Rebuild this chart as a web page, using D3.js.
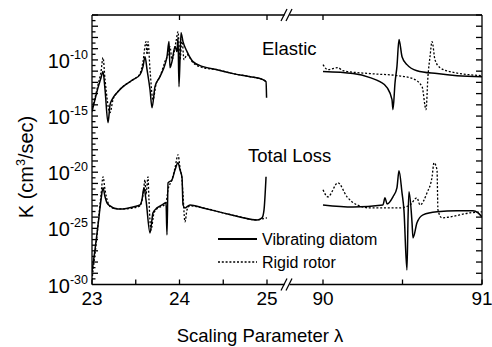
<!DOCTYPE html>
<html><head><meta charset="utf-8">
<script src="https://cdn.jsdelivr.net/npm/d3@7"></script>
<style>body{margin:0;background:#fff}svg{display:block;font-family:"Liberation Sans",Arial,sans-serif}</style>
</head><body><svg id="c" width="492" height="347"></svg>
<script>
// ---- data (lambda, log10 K) ----
const xTicksLeft = [23, 24, 25];
const xTicksRight = [90, 91];
const xMinorLeft = [23.5, 24.5];
const xMinorRight = [90.5];
const yTickExps = [-10, -15, -20, -25, -30];

const elVibLX = [23.0,23.034,23.069,23.103,23.126,23.149,23.183,23.206,23.229,23.286,23.354,23.469,23.549,23.583,23.606,23.629,23.663,23.686,23.72,23.777,23.834,23.857,23.88,23.891,23.914,23.949,23.971,23.983,23.994,24.017,24.04,24.086,24.154,24.269,24.429,24.611,24.806,24.954,24.989,24.995];
const elVibLY = [-14.61,-13.54,-12.47,-11.58,-11.04,-12.65,-15.59,-14.0,-13.54,-12.92,-12.38,-11.76,-11.31,-10.6,-9.71,-10.87,-12.65,-14.26,-12.38,-11.49,-10.42,-9.71,-8.37,-10.69,-10.15,-8.81,-9.26,-8.0,-12.38,-7.57,-8.37,-9.26,-10.15,-10.6,-10.87,-11.22,-11.49,-11.76,-11.94,-13.36];

const elRigLX = [23.0,23.034,23.069,23.103,23.126,23.149,23.206,23.24,23.286,23.354,23.469,23.549,23.583,23.617,23.629,23.64,23.663,23.697,23.731,23.777,23.834,23.869,23.891,23.914,23.96,23.983,24.006,24.029,24.051,24.086,24.154,24.269,24.429,24.611,24.806,24.954,25.0];
const elRigLY = [-14.26,-13.36,-12.2,-11.04,-9.8,-11.76,-14.7,-13.54,-12.92,-12.38,-11.76,-11.22,-10.15,-8.37,-9.53,-8.37,-10.87,-13.54,-12.2,-11.49,-10.15,-9.53,-8.81,-9.97,-8.37,-7.48,-9.97,-8.19,-9.97,-9.53,-10.24,-10.69,-10.87,-11.22,-11.49,-11.76,-11.94];

const tlVibLX = [23.0,23.034,23.069,23.103,23.126,23.149,23.171,23.206,23.286,23.354,23.469,23.549,23.571,23.594,23.617,23.663,23.697,23.743,23.8,23.846,23.857,23.869,23.914,23.949,23.983,24.006,24.029,24.04,24.063,24.12,24.269,24.497,24.691,24.886,24.943,24.966,24.989];
const tlVibLY = [-28.88,-26.92,-24.69,-22.46,-21.39,-22.19,-22.73,-23.0,-23.27,-23.27,-23.09,-22.91,-22.46,-21.39,-22.46,-25.41,-23.62,-23.18,-22.91,-22.73,-25.58,-20.95,-20.68,-19.79,-19.16,-19.79,-20.5,-22.91,-23.18,-22.91,-23.18,-23.62,-23.98,-24.25,-24.07,-23.35,-20.41];

const tlRigLX = [23.0,23.023,23.046,23.08,23.103,23.126,23.149,23.183,23.229,23.354,23.469,23.549,23.583,23.606,23.617,23.64,23.651,23.674,23.709,23.754,23.811,23.846,23.869,23.914,23.949,23.983,24.006,24.029,24.04,24.063,24.086,24.12,24.269,24.497,24.691,24.886,24.943,25.0];
const tlRigLY = [-29.6,-28.0,-26.47,-23.8,-22.02,-20.41,-21.57,-22.73,-23.18,-23.27,-23.18,-23.0,-22.02,-20.68,-22.02,-20.41,-22.46,-25.14,-23.62,-23.18,-23.0,-22.73,-21.57,-20.68,-19.61,-18.45,-19.61,-20.68,-22.02,-24.42,-23.35,-23.0,-23.18,-23.62,-23.98,-24.25,-24.16,-24.07];

const elVibRX = [90.0,90.189,90.296,90.358,90.403,90.434,90.44,90.453,90.465,90.478,90.497,90.528,90.591,90.717,90.843,91.0];
const elVibRY = [-11.04,-11.22,-11.58,-11.94,-12.47,-13.54,-14.43,-12.03,-10.6,-8.19,-9.71,-10.42,-10.96,-11.22,-11.4,-11.49];

const elRigRX = [90.0,90.031,90.094,90.126,90.296,90.465,90.566,90.623,90.648,90.66,90.673,90.686,90.704,90.736,90.799,91.0];
const elRigRY = [-10.42,-10.87,-10.69,-10.96,-11.22,-11.4,-11.67,-12.38,-14.43,-11.49,-9.71,-8.37,-9.97,-10.69,-11.04,-11.4];

const tlVibRX = [90.0,90.189,90.377,90.39,90.403,90.44,90.465,90.478,90.497,90.509,90.528,90.535,90.541,90.56,90.566,90.591,90.629,90.717,90.843,90.943,90.975,91.0];
const tlVibRY = [-22.91,-23.09,-22.91,-22.28,-22.82,-22.19,-21.39,-19.88,-21.84,-23.35,-28.71,-23.98,-21.75,-24.51,-25.85,-24.51,-23.8,-23.53,-23.44,-23.44,-23.62,-23.98];

const tlRigRX = [90.0,90.031,90.094,90.151,90.214,90.296,90.484,90.547,90.591,90.61,90.654,90.686,90.698,90.717,90.723,90.748,90.799,90.925,91.0];
const tlRigRY = [-21.57,-22.19,-20.95,-22.19,-22.91,-23.18,-23.18,-22.91,-22.28,-22.91,-21.84,-20.41,-19.16,-19.79,-23.35,-24.07,-23.98,-23.62,-23.53];

const legendLabels = ["Vibrating diatom", "Rigid rotor"];

// ---- chart ----
const svg = d3.select("#c");
const L = 92, R = 482, T = 15, B = 284.5;
const xL = d3.scaleLinear().domain([23, 25]).range([L, 267]);
const xR = d3.scaleLinear().domain([90, 91]).range([323, R]);
const y = d3.scaleLog().domain([1e-30, 1e-6]).range([B, T]);

const defs = svg.append("defs");
defs.append("clipPath").attr("id","cp").append("rect").attr("x",L).attr("y",T).attr("width",R-L).attr("height",B-T);

function draw(xs, ys, xsc, dashed) {
  const pts = xs.map((d, i) => [xsc(d), y(Math.pow(10, ys[i]))]);
  svg.append("path").attr("clip-path","url(#cp)")
    .attr("d", d3.line().curve(d3.curveMonotoneX)(pts))
    .attr("fill","none").attr("stroke","#000")
    .attr("stroke-width", dashed ? 1.3 : 1.5)
    .attr("stroke-dasharray", dashed ? "2,1.8" : null);
}
draw(elRigLX, elRigLY, xL, true);
draw(tlRigLX, tlRigLY, xL, true);
draw(elRigRX, elRigRY, xR, true);
draw(tlRigRX, tlRigRY, xR, true);
draw(elVibLX, elVibLY, xL, false);
draw(tlVibLX, tlVibLY, xL, false);
draw(elVibRX, elVibRY, xR, false);
draw(tlVibRX, tlVibRY, xR, false);

// frame
const g = svg.append("g").attr("stroke","#000").attr("stroke-width",1.3).attr("fill","none");
g.append("line").attr("x1",L).attr("x2",L).attr("y1",T).attr("y2",B);
g.append("line").attr("x1",R).attr("x2",R).attr("y1",T).attr("y2",B);
[T, B].forEach(yy => {
  g.append("line").attr("x1",L).attr("x2",284.5).attr("y1",yy).attr("y2",yy);
  g.append("line").attr("x1",289.5).attr("x2",R).attr("y1",yy).attr("y2",yy);
  [284, 289].forEach(bx => g.append("line").attr("x1",bx-3).attr("x2",bx+3).attr("y1",yy+6).attr("y2",yy-6));
});

// x ticks
xTicksLeft.concat(xMinorLeft).forEach(v => g.append("line").attr("x1",xL(v)).attr("x2",xL(v)).attr("y1",B).attr("y2",B-5));
xTicksRight.concat(xMinorRight).forEach(v => g.append("line").attr("x1",xR(v)).attr("x2",xR(v)).attr("y1",B).attr("y2",B-5));
[24, 25].forEach(v => g.append("line").attr("x1",xL(v)).attr("x2",xL(v)).attr("y1",T).attr("y2",T+5));
g.append("line").attr("x1",xR(90)).attr("x2",xR(90)).attr("y1",T).attr("y2",T+5);

// y ticks
for (let e = -29; e <= -6; e++) {
  g.append("line").attr("x1",L).attr("x2",L+6).attr("y1",y(Math.pow(10,e))).attr("y2",y(Math.pow(10,e)));
  g.append("line").attr("x1",R).attr("x2",R-6).attr("y1",y(Math.pow(10,e))).attr("y2",y(Math.pow(10,e)));
}
for (let e = -29.5; e <= -6.5; e++) {
  g.append("line").attr("x1",L).attr("x2",L+3.5).attr("y1",y(Math.pow(10,e))).attr("y2",y(Math.pow(10,e)));
}

// tick labels
const tl = svg.append("g").attr("fill","#000").attr("font-size",19).attr("text-anchor","middle");
xTicksLeft.forEach(v => tl.append("text").attr("x",xL(v)).attr("y",305).text(v));
xTicksRight.forEach(v => tl.append("text").attr("x",xR(v)).attr("y",305).text(v));

yTickExps.forEach(e => {
  const t = svg.append("text").attr("x",88).attr("y",y(Math.pow(10,e))+8).attr("text-anchor","end").attr("font-size",20);
  t.append("tspan").text("10");
  t.append("tspan").attr("dy",-9).attr("font-size",12.5).text(String(e));
});

// titles
const yt = svg.append("text").attr("transform","translate(33,167) rotate(-90)").attr("text-anchor","middle").attr("font-size",20);
yt.append("tspan").text("K (cm");
yt.append("tspan").attr("dy",-8).attr("font-size",12.5).text("3");
yt.append("tspan").attr("dy",8).text("/sec)");
svg.append("text").attr("x",260).attr("y",342).attr("text-anchor","middle").attr("font-size",18.5)
  .text("Scaling Parameter  \u03bb");

svg.append("text").attr("x",262).attr("y",55).attr("font-size",18.5).text("Elastic");
svg.append("text").attr("x",248).attr("y",162).attr("font-size",18.5).text("Total Loss");

// legend
[239, 262].forEach((ly, i) => {
  svg.append("line").attr("x1",218).attr("x2",257).attr("y1",ly).attr("y2",ly).attr("stroke","#000")
    .attr("stroke-width", i ? 1.3 : 1.8).attr("stroke-dasharray", i ? "2,1.8" : null);
  svg.append("text").attr("x",262).attr("y",ly+6).attr("font-size",16).text(legendLabels[i]);
});
</script></body></html>
